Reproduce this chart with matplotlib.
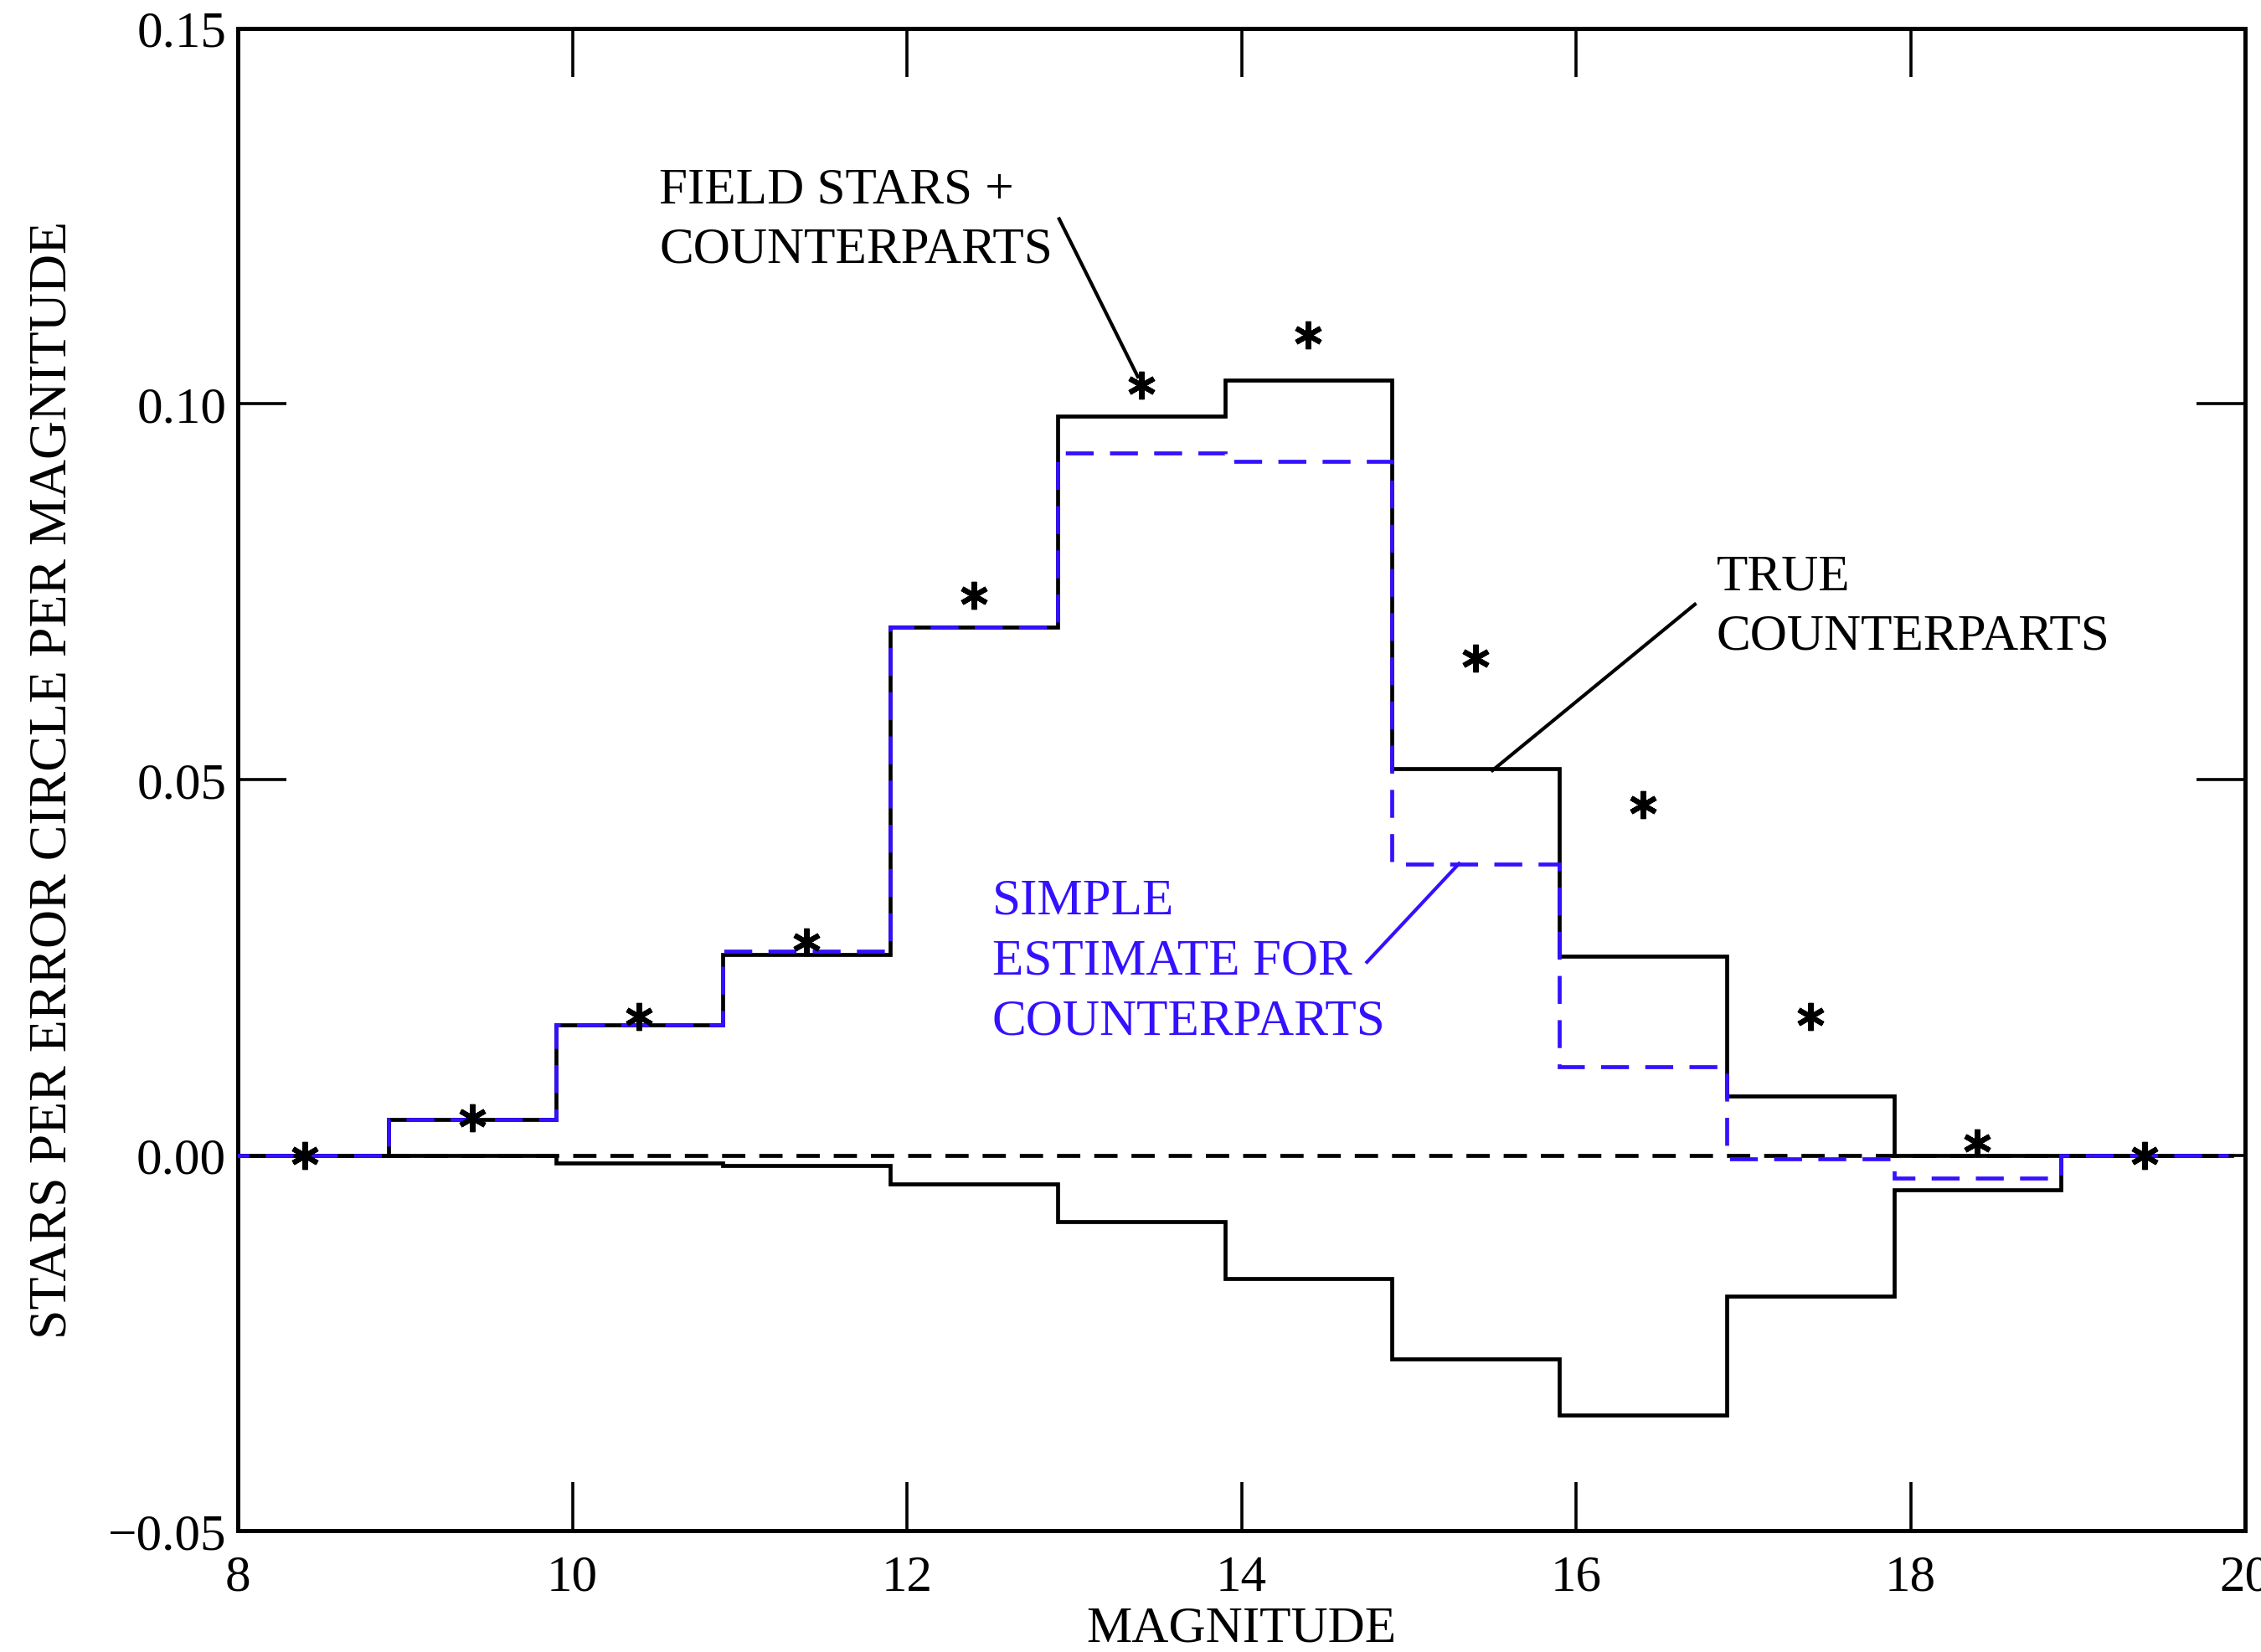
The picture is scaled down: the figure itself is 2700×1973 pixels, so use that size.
import numpy as np
import matplotlib
matplotlib.use("Agg")
import matplotlib.pyplot as plt

# bins of one magnitude, centred on 8.4, 9.4, ... 19.4
bin_edges = np.arange(7.9, 20.0, 1.0)
bin_centres = bin_edges[:-1] + 0.5

# field stars + counterparts (asterisks)
field_plus_cp = [0.0, 0.0050, 0.0184, 0.0284, 0.0745, 0.1025,
                 0.1092, 0.0662, 0.0466, 0.0184, 0.0016, 0.0]
# true counterparts (solid, positive histogram)
true_cp = [0.0, 0.0048, 0.0173, 0.0267, 0.0703, 0.0983,
           0.1031, 0.0514, 0.0265, 0.0079, 0.0, 0.0]
# simple estimate for counterparts (blue dashed)
simple_cp = [0.0, 0.0048, 0.0173, 0.0271, 0.0703, 0.0935,
             0.0923, 0.0387, 0.0118, -0.0005, -0.0031, 0.0]
# lower solid histogram
lower_hist = [0.0, 0.0, -0.0010, -0.0014, -0.0038, -0.0089,
              -0.0164, -0.0271, -0.0346, -0.0188, -0.0046, 0.0]

x_ticks = [8, 10, 12, 14, 16, 18, 20]
y_ticks = [-0.05, 0.0, 0.05, 0.10, 0.15]
y_ticklabels = ["\u22120.05", "0.00", "0.05", "0.10", "0.15"]

BLUE = "#3311ff"

plt.rcParams["font.family"] = ["Liberation Serif", "DejaVu Serif"]
plt.rcParams["font.size"] = 22
plt.rcParams["lines.scale_dashes"] = False

fig = plt.figure(figsize=(13.5, 9.87), dpi=200)
ax = fig.add_axes([0.1052, 0.0733, 0.8878, 0.9092])

# zero line
ax.axhline(0.0, color="black", lw=1.7, linestyle=(0, (10, 6)), zorder=1)

ax.stairs(lower_hist, bin_edges, baseline=None, color="black", lw=1.7, zorder=2)
ax.stairs(true_cp, bin_edges, baseline=None, color="black", lw=1.7, zorder=3)
ax.stairs(simple_cp, bin_edges, baseline=None, color=BLUE, lw=1.7,
          linestyle=(0, (12, 7)), zorder=4)

ax.plot(bin_centres, field_plus_cp, linestyle="none", marker=(6, 2, 0),
        markersize=12, markeredgewidth=2.2, color="black", zorder=5)

# annotations
ax.text(10.52, 0.1316, "FIELD STARS +\nCOUNTERPARTS", ha="left", va="top",
        linespacing=1.38)
ax.plot([12.91, 13.38], [0.1246, 0.1036], color="black", lw=1.5)

ax.text(16.84, 0.0801, "TRUE\nCOUNTERPARTS", ha="left", va="top",
        linespacing=1.38)
ax.plot([16.71, 15.5], [0.0733, 0.0512], color="black", lw=1.5)

ax.text(12.51, 0.0369, "SIMPLE\nESTIMATE FOR\nCOUNTERPARTS", ha="left",
        va="top", color=BLUE, linespacing=1.38)
ax.plot([14.75, 15.3], [0.0257, 0.0388], color=BLUE, lw=1.5)

ax.set_xlim(8, 20)
ax.set_ylim(-0.05, 0.15)
ax.set_xticks(x_ticks)
ax.set_yticks(y_ticks)
ax.set_yticklabels(y_ticklabels)
ax.tick_params(direction="in", length=21, width=1.3, top=True, right=True)
ax.tick_params(axis="x", pad=10)
ax.tick_params(axis="y", pad=5)
for s in ax.spines.values():
    s.set_linewidth(1.8)

ax.set_xlabel("MAGNITUDE", labelpad=2)
ax.set_ylabel("STARS PER ERROR CIRCLE PER MAGNITUDE", labelpad=13, fontsize=23)

fig.savefig("out.png", dpi=200)
